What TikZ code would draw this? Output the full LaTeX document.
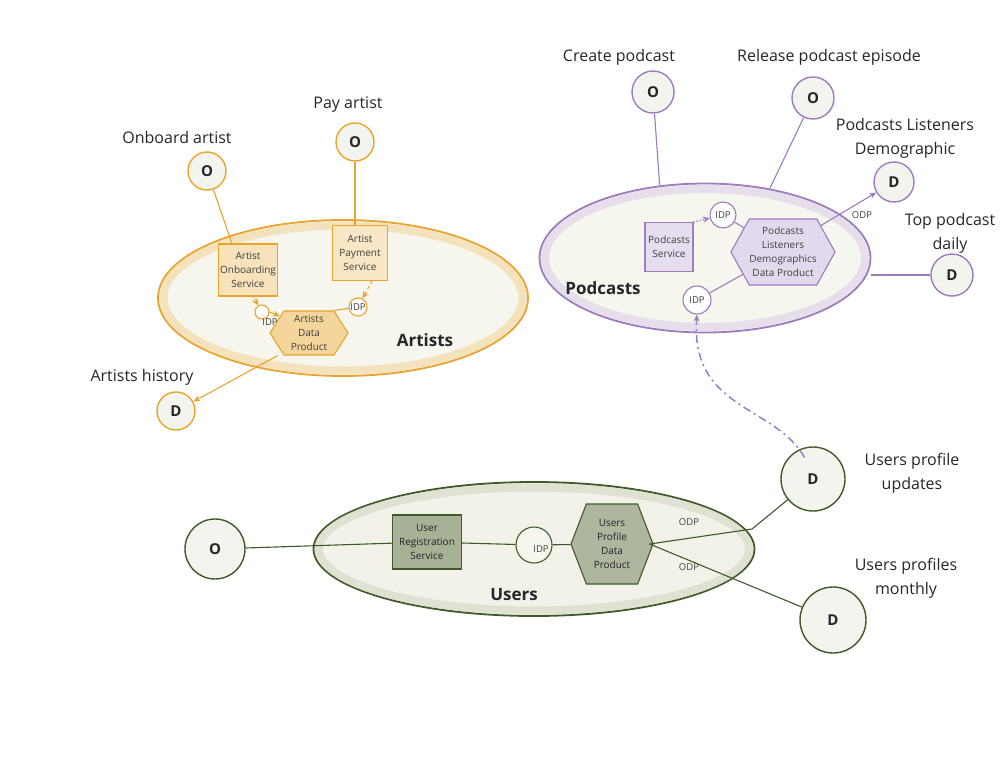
\documentclass[tikz,border=0pt]{standalone}
\usepackage{fontspec}
\setmainfont{Open Sans}
\usetikzlibrary{shapes.geometric,shapes.symbols,arrows.meta}
\definecolor{orA}{HTML}{E9A42C}
\definecolor{orL}{HTML}{F4D69C}
\definecolor{puA}{HTML}{9C7BBF}
\definecolor{puL}{HTML}{DCD0E8}
\definecolor{grA}{HTML}{3F5A28}
\definecolor{grL}{HTML}{D3D6C5}
\definecolor{cream}{HTML}{F6F5EE}
\definecolor{evfill}{HTML}{F4F4EF}
\begin{document}
\begin{tikzpicture}[x=1pt,y=-1pt,
  grp/.style={ellipse,fill=cream,inner sep=0pt},
  band/.style={line width=8pt,opacity=0.6},
  grplbl/.style={font=\fontsize{17}{20}\selectfont\bfseries,text=black!85},
  svc/.style={draw,line width=1.1pt,inner sep=0pt,align=center,font=\fontsize{10}{14}\selectfont,text=black!75},
  hexa/.style={signal,signal to=east and west,draw,line width=1.1pt,inner sep=0pt,align=center,font=\fontsize{10}{14}\selectfont,text=black!75},
  idp/.style={circle,draw,line width=1.1pt,fill=white,inner sep=0pt,font=\fontsize{9.5}{11}\selectfont,text=black!75},
  ev/.style={circle,draw,line width=1.4pt,fill=evfill,inner sep=0pt,font=\fontsize{15}{18}\selectfont\bfseries,text=black!85},
  lbl/.style={font=\fontsize{16}{24}\selectfont,align=center,text=black!85},
  small/.style={font=\fontsize{9.5}{11}\selectfont,text=black!75},
  conn/.style={line width=1.1pt},
  tip/.style={-{Stealth[length=7pt,width=6pt]}}
]
\useasboundingbox (0,0) rectangle (1000,773);

% ---------------- Artists ----------------
\node[grp,minimum width=370pt,minimum height=156pt,draw=orA,line width=1.8pt] (artists) at (343,298) {};
\draw[band,orL] (artists.center) ellipse [x radius=179.5pt, y radius=72.5pt];
\node[grplbl] (artlbl) at (425,340) {Artists};
\node[svc,draw=orA,fill=orL!70,minimum width=59pt,minimum height=52pt] (oserv) at (248,270) {Artist\\Onboarding\\Service};
\node[svc,draw=orA,fill=orL!60,minimum width=55pt,minimum height=55pt] (pserv) at (360,253) {Artist\\Payment\\Service};
\node[hexa,draw=orA,fill=orL,minimum width=78pt,minimum height=44pt,signal pointer angle=115] (ahex) at (309,333) {Artists\\Data\\Product};
\node[idp,draw=orA,minimum size=14pt] (aidp1) at (262,312) {};
\node[small] (aidp1l) at (270,322) {IDP};
\node[idp,draw=orA,minimum size=18pt] (aidp2) at (358,307) {IDP};
\node[ev,draw=orA,minimum size=38pt] (onb) at (207,171) {O};
\node[lbl] (onbl) at (177,137) {Onboard artist};
\node[ev,draw=orA,minimum size=38pt] (pay) at (355,142) {O};
\node[lbl] (payl) at (348,105) {Pay artist};
\node[ev,draw=orA,minimum size=38pt] (ahist) at (176,411) {D};
\node[lbl] (ahistl) at (142,377) {Artists history};

\draw[conn,orA] (onb) -- ([xshift=14pt]oserv.north west);
\draw[conn,orA] (pay.south) -- (pay.south |- pserv.north);
\draw[conn,orA,dotted,line width=1.6pt,tip] ([xshift=5pt]oserv.south) -- (aidp1);
\draw[conn,orA,tip] (aidp1.east) -- (ahex.150);
\draw[conn,orA,dashed,tip] ([xshift=12pt]pserv.south) -- (aidp2);
\draw[conn,orA] (aidp2) -- (ahex.north east);
\draw[conn,orA,tip] ([xshift=-6pt]ahex.south west) -- (ahist);

% ---------------- Podcasts ----------------
\node[grp,minimum width=331pt,minimum height=149pt,draw=puA,line width=1.8pt] (podcasts) at (705,258) {};
\draw[band,puL] (podcasts.center) ellipse [x radius=160pt, y radius=69pt];
\node[grplbl] (podlbl) at (603,288) {Podcasts};
\node[svc,draw=puA,fill=puL!70,minimum width=48pt,minimum height=49pt] (psvc) at (669,247) {Podcasts\\Service};
\node[hexa,draw=puA,fill=puL!80,minimum width=100pt,minimum height=66pt,signal pointer angle=122] (phex) at (783,252) {Podcasts\\Listeners\\Demographics\\Data Product};
\node[idp,draw=puA,minimum size=26pt] (pidp1) at (723,215) {IDP};
\node[idp,draw=puA,minimum size=28pt] (pidp2) at (697,300) {IDP};
\node[ev,draw=puA,minimum size=42pt] (cpod) at (653,92) {O};
\node[lbl] (cpodl) at (619,57) {Create podcast};
\node[ev,draw=puA,minimum size=42pt] (rpod) at (813,98) {O};
\node[lbl] (rpodl) at (829,57) {Release podcast episode};
\node[ev,draw=puA,minimum size=40pt] (demog) at (894,182) {D};
\node[lbl] (demogl) at (905,138) {Podcasts Listeners\\Demographic};
\node[ev,draw=puA,minimum size=42pt] (toppod) at (952,275) {D};
\node[lbl] (toppodl) at (950,233) {Top podcast\\daily};
\node[small] (podp) at (862,215) {ODP};

\draw[conn,puA] (cpod) -- (podcasts.122);
\draw[conn,puA] (rpod) -- (podcasts.47);
\draw[conn,puA,dotted,line width=1.6pt,tip] (psvc.north east) -- (pidp1);
\draw[conn,puA] (pidp1) -- (phex);
\draw[conn,puA] (pidp2) -- (phex);
\draw[conn,puA,tip] (phex.35) -- (demog);
\draw[conn,puA] (toppod.west) -- (toppod.west -| podcasts.east);

% ---------------- Users ----------------
\node[grp,minimum width=441pt,minimum height=134pt,fill=cream!90!grL,draw=grA,line width=1.8pt] (users) at (534,549) {};
\draw[band,grL] (users.center) ellipse [x radius=215pt, y radius=61.5pt];
\node[grplbl] (uslbl) at (514,595) {Users};
\node[svc,draw=grA,fill=grA!30!grL,minimum width=69pt,minimum height=54pt,text=black!85] (ureg) at (427,542) {User\\Registration\\Service};
\node[idp,draw=grA,fill=cream,minimum size=36pt] (uidp) at (534,545) {};
\node[small] (uidpl) at (541,549) {IDP};
\node[hexa,draw=grA,fill=grA!25!grL,minimum width=82pt,minimum height=80pt,signal pointer angle=138,text=black!85] (uhex) at (612,544) {Users\\Profile\\Data\\Product};
\node[ev,draw=grA,minimum size=60pt] (uo) at (215,549) {O};
\node[ev,draw=grA,minimum size=64pt] (uupd) at (813,479) {D};
\node[lbl] (uupdl) at (912,473) {Users profile\\updates};
\node[ev,draw=grA,minimum size=66pt] (umon) at (833,620) {D};
\node[lbl] (umonl) at (906,578) {Users profiles\\monthly};
\node[small] (uodp1) at (689,522) {ODP};
\node[small] (uodp2) at (689,567) {ODP};
\coordinate (ubend) at (752,529);

\draw[conn,grA] (uo) -- (ureg);
\draw[conn,grA] (ureg) -- (uidp);
\draw[conn,grA] (uidp) -- (uhex);
\draw[conn,grA] ([xshift=-4pt]uhex.east) -- (ubend) -- (uupd);
\draw[conn,grA] ([xshift=-4pt]uhex.east) -- (umon);

% cross-domain input
\draw[conn,puA,dash pattern=on 8pt off 4pt on 2pt off 4pt,line width=1.5pt,tip] ([yshift=-10pt]uupd.105) .. controls (775,405) and (690,410) .. (pidp2.south);
\end{tikzpicture}
\end{document}
